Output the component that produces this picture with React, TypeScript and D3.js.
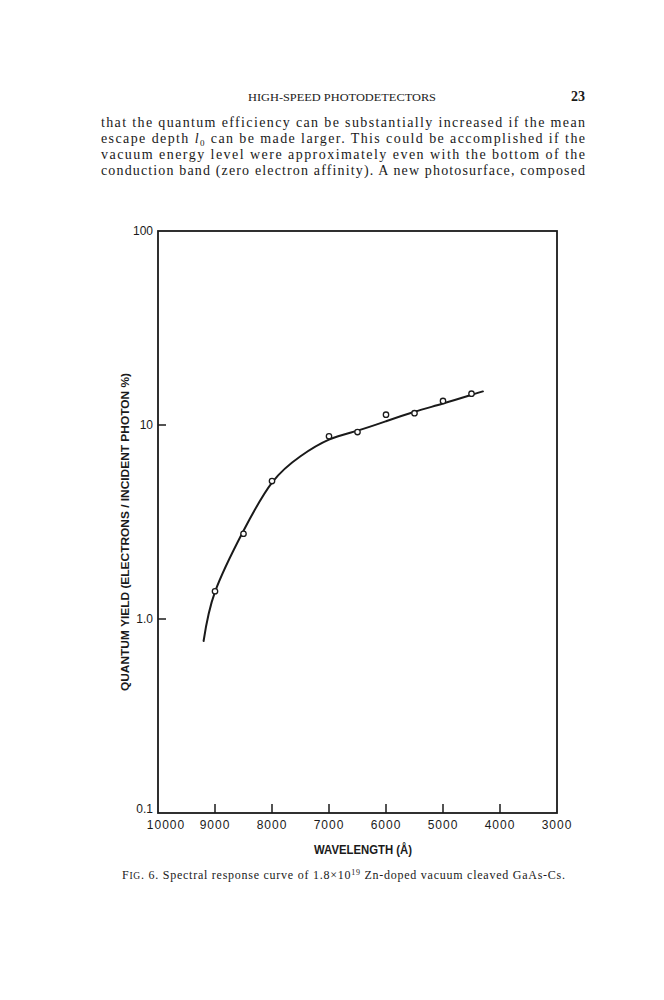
import React from "react";
import * as d3 from "d3";

// ---- data ----
const xTickValues = [10000, 9000, 8000, 7000, 6000, 5000, 4000, 3000];
const xTickLabels = ["10000", "9000", "8000", "7000", "6000", "5000", "4000", "3000"];
const yTickValues = [100, 10, 1, 0.1];
const yTickLabels = ["100", "10", "1.0", "0.1"];

// measured points (wavelength in Å, quantum yield %)
const pointWavelength = [9000, 8500, 8000, 7000, 6500, 6000, 5500, 5000, 4500];
const pointYield = [1.39, 2.75, 5.14, 8.75, 9.2, 11.3, 11.5, 13.3, 14.5];

// drawn smooth curve
const curveWavelength = [9200, 9000, 8500, 8000, 7500, 7000, 6500, 6000, 5500, 5000, 4500, 4300];
const curveYield = [0.77, 1.38, 2.85, 5.05, 6.9, 8.4, 9.35, 10.45, 11.7, 12.9, 14.3, 14.9];

const paragraphLines = [
  "that the quantum efficiency can be substantially increased if the mean",
  "escape depth",
  "vacuum energy level were approximately even with the bottom of the",
  "conduction band (zero electron affinity).  A new photosurface, composed",
];

export default function App() {
  const W = 664, H = 1000;
  const left = 158, right = 557, top = 231, bottom = 813;
  const x = d3.scaleLinear().domain([10000, 3000]).range([left, right]);
  const y = d3.scaleLog().domain([0.1, 100]).range([bottom, top]);

  const curvePts: [number, number][] = curveWavelength.map((w, i) => [x(w), y(curveYield[i])]);
  const line = d3.line().curve(d3.curveNatural)(curvePts) || "";

  const sans = "'Liberation Sans', Arial, sans-serif";
  const serif = "'Liberation Serif', 'Times New Roman', serif";
  const ink = "#1a1a1a";

  return (
    <svg width={W} height={H} viewBox={`0 0 ${W} ${H}`}
      style={{ position: "absolute", left: 0, top: 0, background: "#fff" }}>
      <rect width={W} height={H} fill="#fff" />
      {/* page header */}
      <text x={342} y={101} textAnchor="middle" fontFamily={serif} fontSize={11}
        textLength={188} lengthAdjust="spacingAndGlyphs" fill={ink}>HIGH-SPEED PHOTODETECTORS</text>
      <text x={585} y={101} textAnchor="end" fontFamily={serif} fontSize={14} fontWeight="bold" fill={ink}>23</text>

      {/* paragraph */}
      <g fontFamily={serif} fontSize={14} fill={ink}>
        <text x={101} y={127} textLength={484} lengthAdjust="spacing">{paragraphLines[0]}</text>
        <text x={101} y={143} textLength={484} lengthAdjust="spacing">
          {paragraphLines[1]} <tspan fontStyle="italic">l</tspan><tspan fontSize={9} dy={3}>0</tspan><tspan dy={-3}> can be made larger.  This could be accomplished if the</tspan>
        </text>
        <text x={101} y={159} textLength={484} lengthAdjust="spacing">{paragraphLines[2]}</text>
        <text x={101} y={175} textLength={484} lengthAdjust="spacing">{paragraphLines[3]}</text>
      </g>

      {/* frame */}
      <rect x={left} y={top} width={right - left} height={bottom - top} fill="none" stroke={ink} strokeWidth={1.8} />

      {/* x ticks */}
      {xTickValues.slice(1, -1).map((v) => (
        <line key={"xt" + v} x1={x(v)} x2={x(v)} y1={bottom} y2={bottom - 9} stroke={ink} strokeWidth={1.5} />
      ))}
      {xTickValues.map((v, i) => (
        <text key={"xl" + v} x={x(v) + (i === 0 ? 8 : 0)} y={829} textAnchor="middle" fontFamily={sans}
          fontSize={12} letterSpacing={1} fill={ink}>{xTickLabels[i]}</text>
      ))}

      {/* y ticks */}
      {yTickValues.slice(1, -1).map((v) => (
        <line key={"yt" + v} x1={left} x2={left + 8} y1={y(v)} y2={y(v)} stroke={ink} strokeWidth={1.5} />
      ))}
      {yTickValues.map((v, i) => (
        <text key={"yl" + v} x={153} y={y(v) + (i === 3 ? 0 : 4)} textAnchor="end" fontFamily={sans}
          fontSize={12} fill={ink}>{yTickLabels[i]}</text>
      ))}

      {/* axis titles */}
      <text x={363} y={854} textAnchor="middle" fontFamily={sans} fontSize={12} fontWeight="bold"
        textLength={98} lengthAdjust="spacingAndGlyphs" fill={ink}>WAVELENGTH (Å)</text>
      <text transform={`translate(129, 532) rotate(-90)`} textAnchor="middle" fontFamily={sans}
        fontSize={11} fontWeight="bold" textLength={318} lengthAdjust="spacingAndGlyphs" fill={ink}>
        QUANTUM YIELD (ELECTRONS / INCIDENT  PHOTON %)
      </text>

      {/* curve */}
      <path d={line} fill="none" stroke={ink} strokeWidth={2} strokeLinecap="round" />
      {/* points */}
      {pointWavelength.map((w, i) => (
        <circle key={"p" + w} cx={x(w)} cy={y(pointYield[i])} r={2.7} fill="#fff" stroke={ink} strokeWidth={1.3} />
      ))}

      {/* caption */}
      <text x={122} y={879} fontFamily={serif} fontSize={12} textLength={443} lengthAdjust="spacing" fill={ink}>
        F<tspan fontSize={9.5}>IG</tspan>. 6.   Spectral response curve of 1.8×10<tspan fontSize={8} dy={-4}>19</tspan><tspan dy={4}> Zn-doped vacuum cleaved GaAs-Cs.</tspan>
      </text>
    </svg>
  );
}
